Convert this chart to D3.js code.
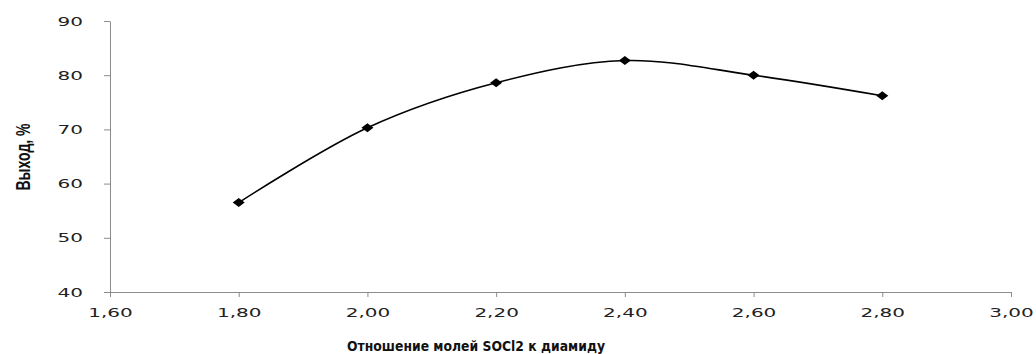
<!DOCTYPE html>
<html><head><meta charset="utf-8">
<script src="https://cdn.jsdelivr.net/npm/d3@7"></script>
<style>
body{margin:0;background:#fff}
svg{display:block}
</style></head>
<body><svg id="c" width="1036" height="354"></svg>
<script>
const xValues = [1.80, 2.00, 2.20, 2.40, 2.60, 2.80];
const yValues = [56.5, 70.3, 78.6, 82.7, 80.0, 76.2];
const xTicks = [1.6, 1.8, 2.0, 2.2, 2.4, 2.6, 2.8, 3.0];
const yTicks = [40, 50, 60, 70, 80, 90];
const xTitle = "Отношение молей SOCl2 к диамиду";
const yTitle = "Выход, %";

const svg = d3.select("#c");
const x = d3.scaleLinear().domain([1.6, 3.0]).range([110, 1011]);
const y = d3.scaleLinear().domain([40, 90]).range([292, 21]);
const fmt = d => d.toFixed(2).replace(".", ",");

const xAxis = svg.append("g").attr("transform", "translate(0,292)")
  .call(d3.axisBottom(x).tickValues(xTicks).tickFormat(fmt).tickSize(5).tickPadding(11).tickSizeOuter(0));
const yAxis = svg.append("g").attr("transform", "translate(110,0)")
  .call(d3.axisLeft(y).tickValues(yTicks).tickSize(6).tickPadding(27).tickSizeOuter(0));
[xAxis, yAxis].forEach(a => {
  a.selectAll("path,line").attr("stroke", "#8c8c8c").attr("stroke-width", 1);
  a.selectAll("text").attr("font-family", "DejaVu Sans, Verdana, sans-serif")
    .attr("font-size", 12.5).attr("fill", "#222");
});
xAxis.selectAll("text").attr("transform", "scale(1.6,1)");
yAxis.selectAll("text").attr("x", 0).attr("transform", "translate(-27,0) scale(1.6,1)");

const pts = xValues.map((v, i) => [x(v), y(yValues[i])]);
svg.append("path").attr("d", d3.line().curve(d3.curveCatmullRom.alpha(0.5))(pts))
  .attr("fill", "none").attr("stroke", "#000").attr("stroke-width", 1.6);

svg.selectAll("path.m").data(pts).enter().append("path").attr("class", "m")
  .attr("d", d => `M${d[0]-6},${d[1]} L${d[0]},${d[1]-4.5} L${d[0]+6},${d[1]} L${d[0]},${d[1]+4.5} Z`)
  .attr("fill", "#000");

svg.append("text").attr("x", 476).attr("y", 351).attr("text-anchor", "middle")
  .attr("font-family", "DejaVu Sans, sans-serif").attr("font-weight", "bold")
  .attr("font-size", 14).attr("fill", "#111").attr("textLength", 258).attr("lengthAdjust", "spacingAndGlyphs")
  .text(xTitle);

svg.append("text").attr("transform", "translate(30,157) rotate(-90)").attr("text-anchor", "middle")
  .attr("font-family", "Liberation Sans Narrow, Arial Narrow, sans-serif").attr("font-weight", "bold")
  .attr("font-size", 21).attr("fill", "#111").attr("textLength", 67).attr("lengthAdjust", "spacingAndGlyphs")
  .text(yTitle);
</script></body></html>
